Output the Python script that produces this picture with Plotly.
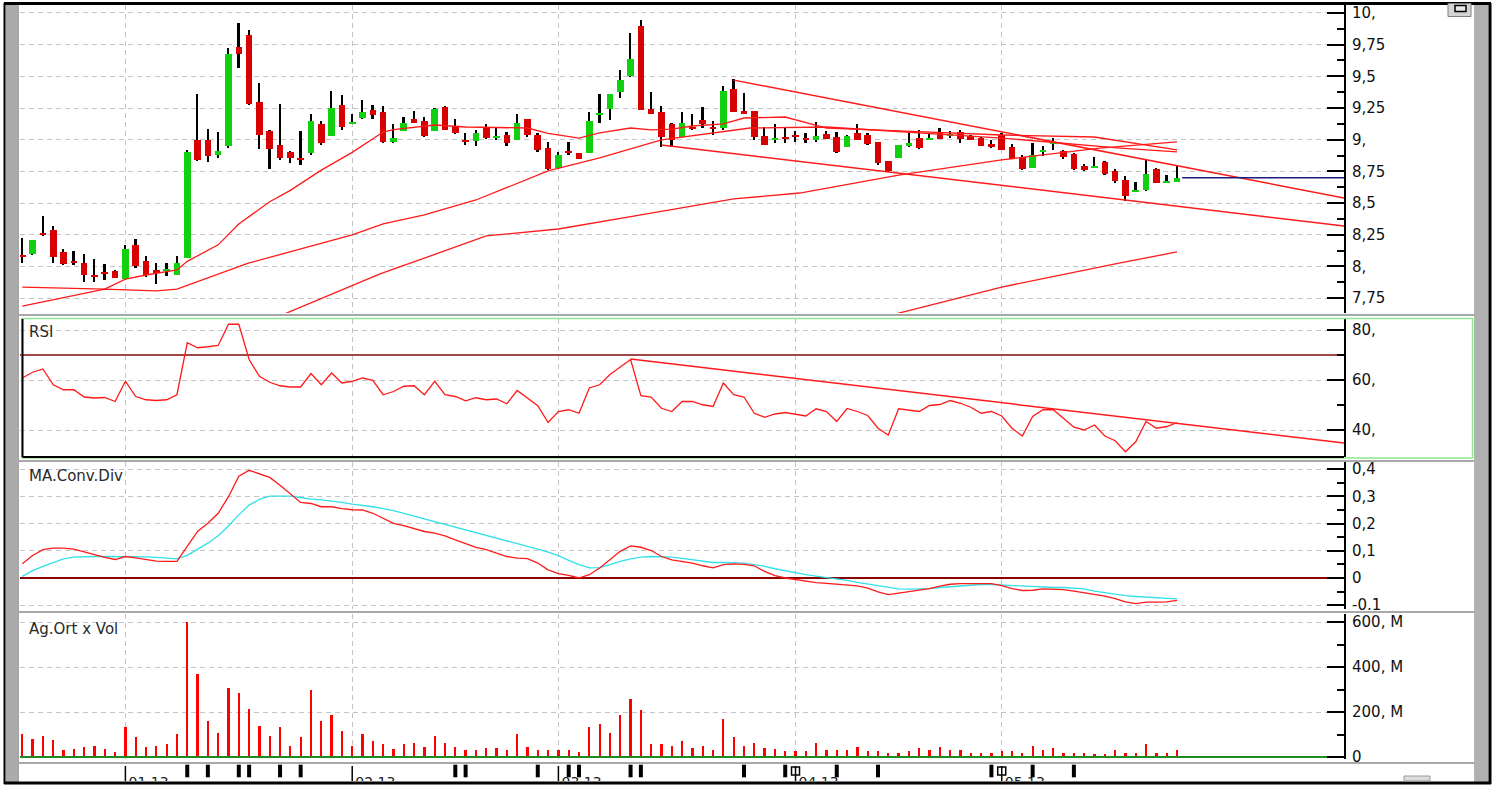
import plotly.graph_objects as go

W, H = 1507, 789

# ---------------- data ----------------
opens = [8.09, 8.095, 8.26, 8.29, 8.11, 8.035, 8.03, 7.925, 7.95, 7.965,
         7.90, 8.17, 8.04, 7.975, 7.97, 7.935, 8.07, 9.00, 9.00, 8.88,
         8.95, 9.73, 9.83, 9.30, 9.065, 8.955, 8.90, 8.85, 8.895, 9.12,
         9.03, 9.27, 9.13, 9.17, 9.235, 9.22, 8.985, 9.065, 9.16, 9.145,
         9.065, 9.26, 9.105, 9.0, 8.99, 9.10, 9.02, 9.04, 9.0, 9.16,
         9.04, 8.935, 8.775, 8.91, 8.895, 8.895, 9.20, 9.24, 9.375, 9.50,
         9.895, 9.24, 9.22, 9.125, 9.025, 9.10, 9.155, 9.095, 9.09, 9.40,
         9.225, 9.225, 9.03, 9.0, 9.015, 9.03, 9.005, 8.995, 9.045, 9.025,
         8.94, 9.05, 9.035, 8.985, 8.83, 8.855, 8.95, 9.015, 9.0, 9.06,
         9.03, 9.06, 9.03, 9.015, 8.955, 9.04, 8.945, 8.865, 8.775, 8.905,
         8.97, 8.91, 8.885, 8.79, 8.78, 8.82, 8.755, 8.685, 8.59, 8.60,
         8.77, 8.66, 8.665]
highs = [8.226, 8.21, 8.40, 8.32, 8.14, 8.12, 8.095, 8.055, 8.015, 7.97,
         8.17, 8.22, 8.08, 8.03, 8.03, 8.08, 8.92, 9.36, 9.085, 9.06,
         9.72, 9.92, 9.865, 9.45, 9.08, 9.28, 8.91, 9.065, 9.20, 9.145,
         9.385, 9.35, 9.20, 9.315, 9.27, 9.265, 9.12, 9.18, 9.23, 9.18,
         9.25, 9.265, 9.16, 9.05, 9.08, 9.125, 9.095, 9.06, 9.20, 9.16,
         9.05, 8.985, 8.905, 8.98, 8.895, 9.215, 9.36, 9.36, 9.55, 9.845,
         9.945, 9.38, 9.265, 9.13, 9.215, 9.205, 9.26, 9.145, 9.42, 9.48,
         9.37, 9.225, 9.10, 9.12, 9.09, 9.065, 9.05, 9.14, 9.07, 9.06,
         9.035, 9.12, 9.05, 8.985, 8.83, 8.955, 9.05, 9.08, 9.05, 9.09,
         9.065, 9.08, 9.04, 9.02, 9.0, 9.05, 8.965, 8.88, 8.975, 8.95,
         9.015, 8.92, 8.895, 8.81, 8.865, 8.835, 8.765, 8.71, 8.665, 8.85,
         8.775, 8.725, 8.79]
lows = [8.03, 8.09, 8.24, 8.03, 8.01, 8.01, 7.88, 7.88, 7.89, 7.905,
        7.895, 7.99, 7.92, 7.86, 7.925, 7.935, 8.07, 8.83, 8.82, 8.855,
        8.935, 9.565, 9.275, 8.93, 8.77, 8.84, 8.815, 8.80, 8.88, 8.955,
        9.03, 9.08, 9.125, 9.16, 9.16, 8.975, 8.975, 9.065, 9.13, 9.025,
        9.065, 9.075, 9.045, 8.955, 8.95, 9.005, 9.0, 8.95, 9.0, 9.025,
        8.905, 8.76, 8.775, 8.88, 8.845, 8.895, 9.13, 9.155, 9.33, 9.495,
        9.235, 9.20, 8.945, 8.945, 9.02, 9.08, 9.09, 9.04, 9.08, 9.22,
        9.205, 9.0, 8.955, 8.975, 8.975, 8.985, 8.975, 8.985, 9.005, 8.895,
        8.94, 8.995, 8.96, 8.80, 8.745, 8.855, 8.945, 8.925, 8.995, 9.005,
        9.01, 8.975, 8.995, 8.95, 8.935, 8.915, 8.845, 8.76, 8.775, 8.87,
        8.92, 8.85, 8.76, 8.755, 8.775, 8.725, 8.66, 8.515, 8.585, 8.595,
        8.655, 8.655, 8.665]
closes = [8.08, 8.21, 8.25, 8.075, 8.02, 8.03, 7.935, 7.92, 7.945, 7.91,
          8.14, 8.00, 7.935, 7.95, 7.975, 8.03, 8.90, 8.84, 8.875, 8.91,
          9.675, 9.68, 9.28, 9.04, 8.925, 8.855, 8.855, 8.845, 9.145, 8.97,
          9.25, 9.10, 9.14, 9.22, 9.195, 8.98, 9.015, 9.135, 9.135, 9.03,
          9.24, 9.08, 9.05, 8.98, 9.05, 9.015, 9.025, 8.97, 9.135, 9.04,
          8.915, 8.765, 8.88, 8.895, 8.85, 9.145, 9.21, 9.36, 9.47, 9.64,
          9.235, 9.205, 9.025, 9.0, 9.135, 9.09, 9.12, 9.09, 9.385, 9.22,
          9.21, 9.025, 8.96, 9.005, 9.01, 9.025, 9.0, 9.03, 9.005, 8.90,
          9.03, 9.0, 8.965, 8.815, 8.75, 8.955, 8.975, 8.935, 9.015, 9.005,
          9.04, 9.005, 8.995, 8.95, 8.95, 8.92, 8.845, 8.765, 8.88, 8.915,
          8.975, 8.86, 8.765, 8.76, 8.79, 8.73, 8.67, 8.555, 8.595, 8.733,
          8.66, 8.665, 8.70]

volume_m = [100.7, 81.5, 94.8, 74.1, 32.6, 37.0, 44.4, 50.4, 37.0, 23.7,
            133.3, 88.9, 44.4, 50.4, 56.3, 100.7, 600, 367, 158.5, 108,
            308, 284, 215, 139, 94.8, 132, 50.4, 88.9, 296, 158.5,
            188, 114, 50.4, 100.7, 69.6, 56.3, 37.0, 56.3, 63.7, 44.4,
            94.8, 63.7, 44.4, 31.1, 32.6, 38.5, 38.5, 31.1, 100.7, 44.4,
            31.1, 31.1, 31.1, 31.1, 23.7, 133.3, 145, 108, 188, 259,
            207, 56.3, 56.3, 50.4, 69.6, 38.5, 50.4, 32.6, 170, 88.9,
            51, 62.2, 40, 37, 25.2, 25.2, 25.2, 62.2, 32.6, 32.6,
            32.6, 44.4, 25.2, 25.2, 17.8, 17.8, 25.2, 38.5, 32.6, 44.4,
            32.6, 32.6, 17.8, 17.8, 17.8, 25.2, 25.2, 17.8, 50.4, 32.6,
            38.5, 17.8, 17.8, 17.8, 11.9, 11.9, 32.6, 17.8, 17.8, 56.3,
            17.8, 17.8, 32.6]

rsi = [60.8, 63.1, 64.4, 58.1, 56.1, 56.1, 53.2, 52.8, 53.0, 51.4,
       59.5, 53.4, 52.1, 51.8, 52.1, 54.1, 74.9, 72.9, 73.3, 73.8,
       82.3, 82.3, 68.2, 61.5, 59.1, 57.7, 57.2, 57.2, 62.6, 58.1,
       62.8, 58.8, 59.5, 60.8, 59.9, 54.1, 55.4, 57.5, 57.7, 54.1,
       59.5, 54.1, 53.4, 51.7, 52.9, 52.1, 52.4, 50.5, 55.8, 52.8,
       49.7, 43.0, 47.4, 48.1, 46.7, 56.8, 58.1, 62.2, 65.2, 68.2,
       53.7, 53.2, 48.7, 47.4, 51.4, 51.4, 50.1, 49.4, 58.8, 54.1,
       53.2, 46.7, 45.1, 46.4, 47.0, 46.4, 45.6, 48.5, 47.4, 43.4,
       48.6, 47.4, 45.8, 40.7, 38.0, 48.5, 48.1, 47.4, 49.8, 50.2,
       51.8, 50.7, 49.1, 46.7, 47.4, 45.6, 40.7, 37.6, 45.4, 48.1,
       48.1, 44.7, 41.1, 40.0, 42.0, 37.6, 35.7, 31.3, 35.3, 43.4,
       40.7, 41.4, 42.9]

macd = [0.052, 0.083, 0.104, 0.110, 0.110, 0.106, 0.096, 0.085, 0.076, 0.068,
        0.079, 0.074, 0.068, 0.062, 0.061, 0.061, 0.116, 0.171, 0.201, 0.238,
        0.299, 0.374, 0.396, 0.384, 0.370, 0.341, 0.311, 0.278, 0.274, 0.262,
        0.262, 0.255, 0.251, 0.250, 0.238, 0.220, 0.201, 0.193, 0.183, 0.171,
        0.165, 0.155, 0.140, 0.126, 0.113, 0.104, 0.091, 0.079, 0.073, 0.071,
        0.055, 0.030, 0.016, 0.010, 0.000, 0.012, 0.037, 0.067, 0.098, 0.118,
        0.113, 0.101, 0.079, 0.067, 0.060, 0.055, 0.045, 0.037, 0.049, 0.052,
        0.050, 0.045, 0.024, 0.009, 0.000, -0.006, -0.013, -0.017, -0.020, -0.023,
        -0.028, -0.029, -0.037, -0.051, -0.061, -0.055, -0.050, -0.045, -0.039, -0.030,
        -0.023, -0.021, -0.021, -0.021, -0.021, -0.028, -0.039, -0.046, -0.045, -0.040,
        -0.041, -0.043, -0.048, -0.054, -0.059, -0.067, -0.076, -0.088, -0.094, -0.089,
        -0.089, -0.088, -0.082]
macd_signal = [0.006, 0.027, 0.043, 0.057, 0.070, 0.077, 0.079, 0.079, 0.079, 0.079,
               0.079, 0.079, 0.078, 0.076, 0.072, 0.070, 0.083, 0.104, 0.128, 0.155,
               0.191, 0.232, 0.268, 0.289, 0.301, 0.301, 0.301, 0.296, 0.290, 0.287,
               0.283, 0.278, 0.272, 0.268, 0.262, 0.255, 0.248, 0.238, 0.228, 0.217,
               0.206, 0.196, 0.187, 0.177, 0.167, 0.157, 0.146, 0.137, 0.126, 0.116,
               0.106, 0.095, 0.082, 0.065, 0.049, 0.037, 0.038, 0.049, 0.061, 0.070,
               0.077, 0.079, 0.078, 0.077, 0.072, 0.067, 0.061, 0.057, 0.057, 0.057,
               0.055, 0.049, 0.043, 0.034, 0.027, 0.018, 0.012, 0.007, 0.002, -0.004,
               -0.009, -0.016, -0.022, -0.028, -0.034, -0.040, -0.041, -0.041, -0.039, -0.035,
               -0.032, -0.029, -0.026, -0.024, -0.024, -0.026, -0.028, -0.030, -0.033, -0.034,
               -0.035, -0.035, -0.037, -0.040, -0.048, -0.054, -0.059, -0.065, -0.068, -0.070,
               -0.071, -0.073, -0.077]

# moving-average lines (candle index, price)
ma1_idx = [0, 4, 8, 10, 12, 15, 16, 19, 21, 24, 26, 29, 32, 35, 36, 40, 43, 49, 51, 54,
           56, 59, 61, 63, 65, 68, 70, 74, 78, 85, 95, 104, 112]
ma1_val = [7.837, 7.829, 7.821, 7.90, 7.932, 7.972, 8.04, 8.17, 8.335, 8.51, 8.60, 8.76,
           8.90, 9.06, 9.08, 9.116, 9.10, 9.092, 9.05, 9.013, 9.053, 9.092, 9.077, 9.084,
           9.108, 9.124, 9.171, 9.179, 9.092, 9.069, 9.037, 9.021, 8.919]
ma2_idx = [0, 4, 8, 13, 15, 22, 32, 35, 39, 44, 51, 56, 62, 70.6, 78, 95, 106.5, 112]
ma2_val = [7.687, 7.751, 7.821, 7.806, 7.821, 8.027, 8.248, 8.335, 8.406, 8.524, 8.753,
           8.856, 8.998, 9.092, 9.10, 9.013, 8.934, 8.903]
ma3_idx = [25, 34.7, 45, 52, 60, 69, 75.4, 85, 95, 104.5, 112]
ma3_val = [7.61, 7.94, 8.24, 8.295, 8.406, 8.532, 8.579, 8.721, 8.84, 8.934, 8.982]
ma4_idx = [84, 95, 106.5, 112]
ma4_val = [7.61, 7.837, 8.027, 8.114]

# trend lines (start/end: candle index, value)
trend_up_idx = [69, 128.2]
trend_up_val = [9.47, 8.54]
trend_lo_idx = [62, 128.2]
trend_lo_val = [8.958, 8.319]
rsi_trend_idx = [59, 128.2]
rsi_trend_val = [68.4, 34.8]
rsi_level = 70

month_idx = [10, 32, 52, 75, 95]
month_labels = ["01.13", "02.13", "03.13", "04.13", "05.13"]
event_idx = [16, 18, 21, 22, 25, 27, 42, 43, 50, 53, 54, 59, 60, 70, 74, 79, 83, 94, 98, 102]
event_open_idx = [75, 95]

price_ticks = [7.75, 8.0, 8.25, 8.5, 8.75, 9.0, 9.25, 9.5, 9.75, 10.0]
price_labels = ["7,75", "8,", "8,25", "8,5", "8,75", "9,", "9,25", "9,5", "9,75", "10,"]
rsi_ticks = [40, 60, 80]
rsi_labels = ["40,", "60,", "80,"]
macd_ticks = [-0.1, 0, 0.1, 0.2, 0.3, 0.4]
macd_labels = ["-0.1", "0", "0,1", "0,2", "0,3", "0,4"]
vol_ticks = [0, 200, 400, 600]
vol_labels = ["0", "200, M", "400, M", "600, M"]

# ---------------- figure ----------------
def px(x):
    return x / W


def py(y):
    return 1 - y / H


n = len(closes)
idx = list(range(n))
X0, X1 = -0.223, 128.2
GREEN, RED = "#10d010", "#d80000"
FONT = "DejaVu Sans"

fig = go.Figure()

# candles: wicks then bodies
fig.add_trace(go.Bar(x=idx, y=[h - l for h, l in zip(highs, lows)], base=lows,
                     width=0.17, marker=dict(color="black", line=dict(width=0)),
                     xaxis="x", yaxis="y", hoverinfo="skip"))
body_base = [min(o, c) for o, c in zip(opens, closes)]
body_h = [max(abs(c - o), 0.012) for o, c in zip(opens, closes)]
body_col = [GREEN if c >= o else RED for o, c in zip(opens, closes)]
fig.add_trace(go.Bar(x=idx, y=body_h, base=body_base, width=0.64,
                     marker=dict(color=body_col, line=dict(width=0)),
                     xaxis="x", yaxis="y"))

line_red = dict(color="#ff1a1a", width=1.3)
for xs, ys in [(ma1_idx, ma1_val), (ma2_idx, ma2_val), (ma3_idx, ma3_val), (ma4_idx, ma4_val)]:
    fig.add_trace(go.Scatter(x=xs, y=ys, mode="lines", line=line_red, xaxis="x", yaxis="y"))
for xs, ys in [(trend_up_idx, trend_up_val), (trend_lo_idx, trend_lo_val)]:
    fig.add_trace(go.Scatter(x=xs, y=ys, mode="lines", line=dict(color="#ff1a1a", width=1.5),
                             xaxis="x", yaxis="y"))
# last price line
fig.add_trace(go.Scatter(x=[n - 0.5, X1], y=[closes[-1], closes[-1]], mode="lines",
                         line=dict(color="#1c1c80", width=1.5), xaxis="x", yaxis="y"))

# RSI
fig.add_trace(go.Scatter(x=[X0, X1], y=[rsi_level, rsi_level], mode="lines",
                         line=dict(color="#a04848", width=2), xaxis="x2", yaxis="y2"))
fig.add_trace(go.Scatter(x=idx, y=rsi, mode="lines", line=dict(color="#ff1a1a", width=1.3),
                         xaxis="x2", yaxis="y2"))
fig.add_trace(go.Scatter(x=rsi_trend_idx, y=rsi_trend_val, mode="lines",
                         line=dict(color="#ff1a1a", width=1.5), xaxis="x2", yaxis="y2"))

# MACD
fig.add_trace(go.Scatter(x=[X0, X1], y=[0, 0], mode="lines",
                         line=dict(color="#8e0000", width=2), xaxis="x3", yaxis="y3"))
fig.add_trace(go.Scatter(x=idx, y=macd_signal, mode="lines", line=dict(color="#30e0ea", width=1.3),
                         xaxis="x3", yaxis="y3"))
fig.add_trace(go.Scatter(x=idx, y=macd, mode="lines", line=dict(color="#ff1a1a", width=1.3),
                         xaxis="x3", yaxis="y3"))

# Volume
fig.add_trace(go.Bar(x=idx, y=volume_m, width=0.22, marker=dict(color="#ff0000", line=dict(width=0)),
                     xaxis="x4", yaxis="y4"))
fig.add_trace(go.Scatter(x=[X0, X1], y=[0, 0], mode="lines",
                         line=dict(color="#1e8c1e", width=2), xaxis="x4", yaxis="y4"))

# bottom strip: month ticks, labels, event marks
for m in month_idx:
    fig.add_trace(go.Scatter(x=[m, m], y=[0, 15], mode="lines", line=dict(color="black", width=1.5),
                             xaxis="x5", yaxis="y5"))
fig.add_trace(go.Scatter(x=[m + 0.3 for m in month_idx], y=[4.5] * len(month_idx), mode="text",
                         text=month_labels, textposition="bottom right", cliponaxis=True,
                         textfont=dict(family=FONT, size=14, color="#202020"),
                         xaxis="x5", yaxis="y5"))
fig.add_trace(go.Scatter(x=event_idx, y=[10] * len(event_idx), mode="markers",
                         marker=dict(symbol="line-ns", size=9, line=dict(width=4, color="black")),
                         xaxis="x5", yaxis="y5"))
fig.add_trace(go.Scatter(x=event_open_idx, y=[10] * len(event_open_idx), mode="markers",
                         marker=dict(symbol="square-open", size=8, color="black", line=dict(width=1.5)),
                         xaxis="x5", yaxis="y5"))

# ---------------- axes ----------------
xdom = [px(20), px(1344)]
grid = dict(gridcolor="#c4c4c4", griddash="5px,4px", gridwidth=1)


def xax(anchor, showgrid=True):
    d = dict(domain=xdom, range=[X0, X1], anchor=anchor, showticklabels=False, ticks="",
             tickvals=month_idx, showgrid=showgrid, zeroline=False, showline=False,
             fixedrange=True, automargin=False)
    d.update(grid)
    return d


def yax(anchor, dom, rng, tv, tt, minor_tv):
    d = dict(domain=dom, range=rng, anchor=anchor, side="right", tickvals=tv, ticktext=tt,
             ticks="inside", ticklen=17, tickwidth=2, tickcolor="black",
             showline=True, linecolor="black", linewidth=2, zeroline=False, showgrid=True,
             minor=dict(tickvals=minor_tv, ticks="inside", ticklen=7, tickwidth=2,
                        tickcolor="black", showgrid=False),
             tickfont=dict(family=FONT, size=15, color="#111111"), ticklabelstandoff=3,
             fixedrange=True, automargin=False)
    d.update(grid)
    return d


layout = dict(
    width=W, height=H, autosize=False, margin=dict(l=0, r=0, t=0, b=0, pad=0),
    paper_bgcolor="white", plot_bgcolor="white", showlegend=False, barmode="overlay",
    bargap=0,
    xaxis=xax("y"), xaxis2=xax("y2"), xaxis3=xax("y3"), xaxis4=xax("y4"), xaxis5=xax("y5", False),
    yaxis=yax("x", [py(313), py(5)], [7.632, 10.063], price_ticks, price_labels,
              [7.875, 8.125, 8.375, 8.625, 8.875, 9.125, 9.375, 9.625, 9.875]),
    yaxis2=yax("x2", [py(457), py(319)], [29.2, 84.4], rsi_ticks, rsi_labels, [50, 70]),
    yaxis3=yax("x3", [py(609), py(462)], [-0.114, 0.4265], macd_ticks, macd_labels,
               [-0.05, 0.05, 0.15, 0.25, 0.35]),
    yaxis4=yax("x4", [py(759), py(614)], [-8.9, 635.6], vol_ticks, vol_labels, [100, 300, 500]),
    yaxis5=dict(domain=[py(781), py(761)], range=[0, 20], anchor="x5", visible=False,
                fixedrange=True, automargin=False),
)


def prect(x0, y0, x1, y1, fill=None, line=None, lw=0):
    return dict(type="rect", xref="paper", yref="paper", x0=px(x0), x1=px(x1), y0=py(y1), y1=py(y0),
                fillcolor=fill if fill else "rgba(0,0,0,0)",
                line=dict(color=line if line else "rgba(0,0,0,0)", width=lw), layer="above")


def pline(x0, y0, x1, y1, color, w):
    return dict(type="line", xref="paper", yref="paper", x0=px(x0), x1=px(x1), y0=py(y0), y1=py(y1),
                line=dict(color=color, width=w), layer="above")


shapes = []
# frame
shapes.append(prect(5.5, 5, 17, 782, fill="#ababab"))
shapes.append(pline(18, 5, 18, 782, "#8a8a8a", 1.5))
shapes.append(prect(1476, 5, 1488.5, 782, fill="#b0b0b0"))
shapes.append(pline(1475, 5, 1475, 782, "#9a9a9a", 1.5))
shapes.append(pline(4, 3.5, 1491, 3.5, "black", 3))
shapes.append(pline(4, 783, 1491, 783, "black", 3))
shapes.append(pline(4.5, 3, 4.5, 784, "black", 2))
shapes.append(pline(1490, 3, 1490, 784, "black", 3))
for yy in [315, 461, 612, 763]:
    shapes.append(pline(18, yy, 1475, yy, "#a8a8a8", 2))
# RSI box
shapes.append(prect(22, 318.5, 1472.5, 458, line="#8ee88e", lw=1.5))
shapes.append(pline(22.5, 319, 22.5, 457, "black", 2))
shapes.append(pline(22.5, 457, 1344, 457, "black", 2))
# top-right button
shapes.append(prect(1448, 3.5, 1471, 16.5, fill="#d4d4d4", line="#808080", lw=1))
shapes.append(prect(1455, 5.5, 1466, 11.5, fill="#e8e8e8", line="black", lw=1.5))
# bottom-right nub
shapes.append(prect(1404, 776, 1430, 781, fill="#dcdcdc", line="#9a9a9a", lw=1))
layout["shapes"] = shapes

tfont = dict(family=FONT, size=15, color="#2a2a2a")
layout["annotations"] = [
    dict(xref="paper", yref="paper", x=px(27), y=py(321), text="RSI", showarrow=False,
         xanchor="left", yanchor="top", font=tfont),
    dict(xref="paper", yref="paper", x=px(27), y=py(465), text="MA.Conv.Div", showarrow=False,
         xanchor="left", yanchor="top", font=tfont),
    dict(xref="paper", yref="paper", x=px(27), y=py(618), text="Ag.Ort x Vol", showarrow=False,
         xanchor="left", yanchor="top", font=tfont),
]

fig.update_layout(**layout)
fig.write_html(
    "out.html",
    config={"displayModeBar": False, "responsive": False},
    post_script=(
        "var gd=document.getElementById('{plot_id}');"
        "gd.style.position='fixed';gd.style.left='0px';gd.style.top='0px';gd.style.margin='0px';"
        "document.documentElement.style.margin='0';document.body.style.margin='0';"
        "document.documentElement.style.overflow='hidden';document.body.style.overflow='hidden';"
    ),
)
